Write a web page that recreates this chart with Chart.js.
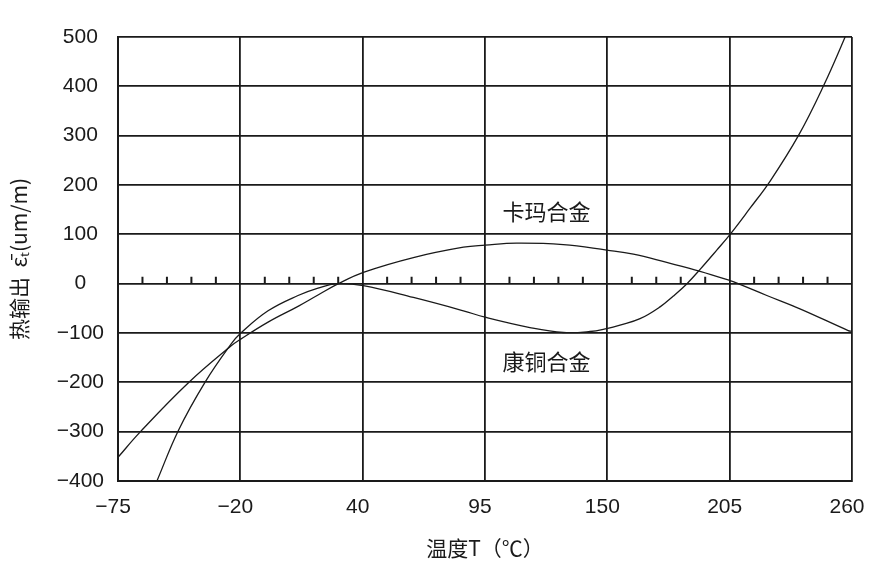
<!DOCTYPE html>
<html><head><meta charset="utf-8">
<script src="https://cdn.jsdelivr.net/npm/chart.js@4.4.0/dist/chart.umd.min.js"></script>
<style>html,body{margin:0;padding:0;background:#fff}#wrap{width:885px;height:581px}</style>
</head><body><div id="wrap"><canvas id="c"></canvas></div>
<script>
// Tick labels of the temperature axis (evenly spaced on the drawing)
const xTickLabels = [-75, -20, 40, 95, 150, 205, 260];
// y axis range
const yMin = -400, yMax = 500, yStep = 100;

// 卡玛合金 (Karma alloy)
const karmaTemp = [-75, -65.1, -43.1, -24.1, -20, -6.4, 8.3, 18.1, 28.1, 40.3, 62.8, 85.3, 95, 109.2, 130.2, 149.7, 161.7, 176.7, 191.7, 205.2, 208.8, 221.7, 236.6, 258.3, 260];
const karmaVal  = [-352, -301, -200, -126, -113, -78, -46, -23, 0, 23, 53, 74, 78, 82, 79, 68, 60, 43, 25, 6, 0, -24, -51, -95, -97];

// 康铜合金 (constantan)
const constTemp = [-57.5, -47.9, -35.9, -24.1, -20, -6.4, 8.3, 18.1, 27.3, 40.3, 62.8, 85.3, 95, 115.2, 130.2, 142.2, 149.7, 155.7, 164.7, 173.7, 179.7, 185.8, 191.7, 199.2, 205.2, 214, 223.2, 235.9, 247.1, 256.9, 258.5];
const constVal  = [-400, -298, -200, -122, -101, -55, -24, -9, 0, -4, -28, -55, -68, -89, -99, -97, -91, -84, -71, -47, -25, 0, 29, 68, 100, 152, 208, 300, 400, 500, 520];

// curve labels: [text, temperature, value]
const curveLabels = [["卡玛合金", 122.7, 145], ["康铜合金", 122.7, -158]];

const xTitle = "温度T（℃）";
const yTitle = "热输出  ε\u0304\u209C(um/m)";

function tempToPos(t) {
  for (let i = 0; i < xTickLabels.length - 1; i++) {
    const a = xTickLabels[i], b = xTickLabels[i + 1];
    if (t <= b || i === xTickLabels.length - 2) return i + (t - a) / (b - a);
  }
}
function fmt(v) { return v < 0 ? "\u2212" + Math.abs(v) : String(v); }

const INK = "#1a1a1a";
const LATIN = "'Liberation Sans', Arial, 'Noto Sans CJK SC', sans-serif";
const CJK = "'Noto Sans CJK SC', 'Liberation Sans', sans-serif";

const minorTicks = {
  id: "minorTicks",
  afterDatasetsDraw(chart) {
    const {ctx, scales: {x, y}} = chart;
    const y0 = y.getPixelForValue(0);
    ctx.save();
    ctx.strokeStyle = INK; ctx.lineWidth = 2;
    ctx.beginPath();
    for (let i = 0; i < xTickLabels.length - 1; i++) {
      for (let k = 1; k < 5; k++) {
        const px = x.getPixelForValue(i + k / 5);
        ctx.moveTo(px, y0); ctx.lineTo(px, y0 - 7);
      }
    }
    ctx.stroke();
    ctx.fillStyle = INK;
    ctx.font = "22px " + CJK;
    ctx.textAlign = "center"; ctx.textBaseline = "middle";
    curveLabels.forEach(([t, tx, v]) => {
      ctx.fillText(t, x.getPixelForValue(tempToPos(tx)), y.getPixelForValue(v));
    });
    ctx.restore();
  }
};

const mk = (T, V) => T.map((t, i) => ({x: tempToPos(t), y: V[i]}));

new Chart(document.getElementById("c"), {
  type: "line",
  data: {
    datasets: [
      {label: "卡玛合金", data: mk(karmaTemp, karmaVal), borderColor: INK, borderWidth: 1.3, pointRadius: 0, tension: 0.4, fill: false},
      {label: "康铜合金", data: mk(constTemp, constVal), borderColor: INK, borderWidth: 1.3, pointRadius: 0, tension: 0.4, fill: false}
    ]
  },
  options: {
    responsive: true, maintainAspectRatio: false, animation: false,
    layout: {padding: {left: 0, top: 37, right: 33, bottom: 0}},
    plugins: {legend: {display: false}, tooltip: {enabled: false}},
    scales: {
      x: {
        type: "linear", min: 0, max: xTickLabels.length - 1,
        afterFit(s) { s.height = 100; },
        grid: {color: INK, lineWidth: 1.8, drawTicks: false},
        border: {color: INK, width: 2},
        ticks: {stepSize: 1, padding: 14, labelOffset: -5, color: INK, font: {family: LATIN, size: 21},
          callback: v => fmt(xTickLabels[v])},
        title: {display: true, text: xTitle, color: INK, font: {family: CJK, size: 21}, padding: {top: 0, bottom: 20}}
      },
      y: {
        min: yMin, max: yMax,
        afterFit(s) { s.width = 118; },
        grid: {color: INK, lineWidth: 1.8, drawTicks: false},
        border: {color: INK, width: 2},
        ticks: {stepSize: yStep, padding: 14, crossAlign: "center", color: INK, font: {family: LATIN, size: 21},
          callback: v => fmt(v)},
        title: {display: true, text: yTitle, color: INK, font: {family: CJK, size: 21}, padding: {top: 6, bottom: 0}}
      }
    }
  },
  plugins: [minorTicks]
});
</script></body></html>
